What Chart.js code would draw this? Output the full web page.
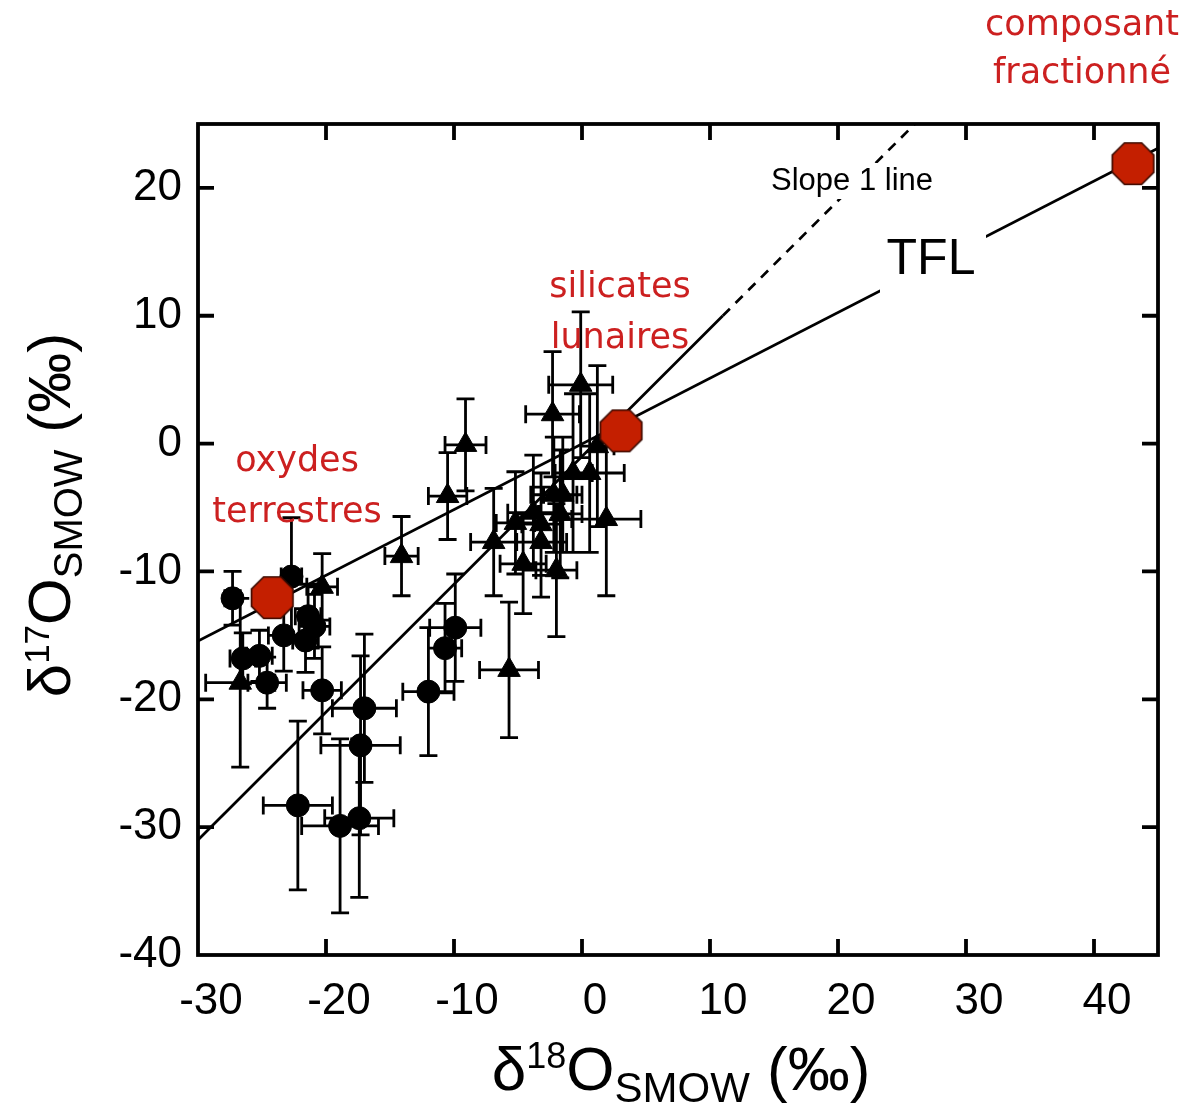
<!DOCTYPE html>
<html>
<head>
<meta charset="utf-8">
<script src="https://cdn.jsdelivr.net/npm/chart.js@4.4.1/dist/chart.umd.min.js"></script>
<style>
  html, body { margin: 0; padding: 0; background: #fff; }
  canvas { display: block; }
</style>
</head>
<body>
<canvas id="c" width="1183" height="1112"></canvas>
<script>
// Metal grains, circles: δ18O, δ17O and 1σ errors (‰)
const circD18 = [-27.3, -22.7, -21.4, -20.9, -23.3, -21.6, -26.5, -25.2, -24.6, -20.3, -17.0, -17.3, -22.2, -18.9, -17.4, -12.0, -10.7, -9.9];
const circD17 = [-12.1, -10.4, -13.5, -14.3, -15.0, -15.4, -16.8, -16.6, -18.7, -19.3, -20.7, -23.6, -28.3, -29.9, -29.3, -19.4, -16.0, -14.4];
const circErr18 = [0.6, 0.8, 1.0, 1.2, 1.2, 1.0, 1.0, 1.0, 1.5, 1.5, 2.5, 3.1, 2.7, 3.0, 2.7, 2.0, 1.3, 2.0];
const circErr17 = [2.1, 4.6, 2.5, 2.5, 2.8, 2.5, 2.0, 2.0, 2.0, 3.4, 5.8, 7.0, 6.6, 6.8, 6.2, 5.0, 3.5, 4.2];

// Metal grains, triangles
const triD18 = [-26.7, -20.3, -14.1, -10.5, -9.1, -6.9, -5.7, -5.2, -4.6, -3.8, -3.2, -3.2, -2.3, -2.2, -2.0, -1.7, -1.5, -0.7, -0.1, 0.6, 1.2, 1.9];
const triD17 = [-18.7, -11.2, -8.8, -4.1, -0.1, -7.7, -17.7, -6.2, -9.4, -5.4, -6.3, -7.7, 2.3, -4.0, -9.9, -5.5, -4.0, -2.3, 4.6, -2.3, -0.2, -5.9];
const triErr18 = [2.7, 1.2, 1.3, 1.5, 1.6, 1.8, 2.3, 1.5, 1.8, 2.0, 1.5, 2.0, 2.1, 1.8, 1.6, 1.7, 1.5, 1.5, 2.5, 2.7, 1.3, 2.7];
const triErr17 = [6.6, 2.6, 3.1, 3.4, 3.6, 4.2, 5.3, 4.0, 3.9, 4.5, 4.0, 4.3, 4.9, 4.5, 5.2, 5.0, 4.5, 6.2, 5.7, 6.2, 6.3, 6.0];

// End members: terrestrial oxides, lunar silicates, fractionated component
const endD18 = [-24.2, 3.05, 43.05];
const endD17 = [-12.05, 1.0, 21.9];

// Terrestrial fractionation line
const tflD18 = [-30, 45];
const tflD17 = [-15.45, 23.1];

// Slope 1 line (solid, then dashed)
const slopeSolidD18 = [-30, 11];
const slopeSolidD17 = [-31, 10];
const slopeDashD18 = [11, 27];
const slopeDashD17 = [10, 26];

// Axis ranges and ticks
const xMin = -30, xMax = 45, xStep = 10;
const yMin = -40, yMax = 25, yStep = 10;

const pts = (xs, ys) => xs.map((v, i) => ({ x: v, y: ys[i] }));

function octagon(r, fill, stroke) {
  const c = document.createElement('canvas');
  const s = Math.ceil(2 * r + 4);
  c.width = c.height = s;
  const g = c.getContext('2d');
  g.beginPath();
  for (let i = 0; i < 8; i++) {
    const a = Math.PI / 8 + i * Math.PI / 4;
    g.lineTo(s / 2 + r * Math.cos(a), s / 2 + r * Math.sin(a));
  }
  g.closePath();
  g.fillStyle = fill;
  g.fill();
  g.lineWidth = 1.6;
  g.strokeStyle = stroke;
  g.stroke();
  return c;
}

const RED = '#cc2020';
const octImg = octagon(22.5, '#c41f00', '#3a0a00');

const errorSets = [
  { xs: circD18, ys: circD17, ex: circErr18, ey: circErr17 },
  { xs: triD18, ys: triD17, ex: triErr18, ey: triErr17 }
];

function drawRich(ctx, parts, cx, cy, angle) {
  let total = 0;
  parts.forEach(p => { ctx.font = p.size + 'px "Liberation Sans", Arial, sans-serif'; p.w = ctx.measureText(p.t).width; total += p.w; });
  ctx.save();
  ctx.translate(cx, cy);
  ctx.rotate(angle);
  ctx.fillStyle = '#000';
  ctx.textBaseline = 'alphabetic';
  ctx.textAlign = 'left';
  let x = -total / 2;
  parts.forEach(p => {
    ctx.font = p.size + 'px "Liberation Sans", Arial, sans-serif';
    ctx.fillText(p.t, x, p.dy || 0);
    x += p.w;
  });
  ctx.restore();
}

function label(ctx, text, x, y, font, color, box) {
  ctx.save();
  ctx.font = font;
  ctx.textAlign = 'center';
  ctx.textBaseline = 'middle';
  if (box) {
    ctx.fillStyle = '#fff';
    ctx.fillRect(box[0], box[1], box[2] - box[0], box[3] - box[1]);
  }
  ctx.fillStyle = color;
  ctx.fillText(text, x, y);
  ctx.restore();
}

const decor = {
  id: 'decor',
  beforeDatasetDraw(chart, args) {
    if (args.index !== 2) return;
    const { ctx, scales: { x, y } } = chart;
    const cap = 9;
    ctx.save();
    ctx.strokeStyle = '#000';
    ctx.lineWidth = 2.8;
    ctx.beginPath();
    errorSets.forEach(s => {
      s.xs.forEach((v, i) => {
        const px = x.getPixelForValue(v), py = y.getPixelForValue(s.ys[i]);
        const x0 = x.getPixelForValue(v - s.ex[i]), x1 = x.getPixelForValue(v + s.ex[i]);
        const y0 = y.getPixelForValue(s.ys[i] - s.ey[i]), y1 = y.getPixelForValue(s.ys[i] + s.ey[i]);
        ctx.moveTo(x0, py); ctx.lineTo(x1, py);
        ctx.moveTo(x0, py - cap); ctx.lineTo(x0, py + cap);
        ctx.moveTo(x1, py - cap); ctx.lineTo(x1, py + cap);
        ctx.moveTo(px, y0); ctx.lineTo(px, y1);
        ctx.moveTo(px - cap, y0); ctx.lineTo(px + cap, y0);
        ctx.moveTo(px - cap, y1); ctx.lineTo(px + cap, y1);
      });
    });
    ctx.stroke();
    ctx.restore();
  },
  afterDatasetsDraw(chart) {
    const { ctx, chartArea: a, scales: { x, y } } = chart;
    // annotation labels
    label(ctx, 'Slope 1 line', 852, 181, '31px "Liberation Sans", Arial, sans-serif', '#000', [768, 163, 937, 199]);
    label(ctx, 'TFL', 931, 260, '50px "Liberation Sans", Arial, sans-serif', '#000', [880, 228, 986, 294]);
    const rf = '35px "DejaVu Sans", sans-serif';
    label(ctx, 'silicates', 620, 288, rf, RED);
    label(ctx, 'lunaires', 620, 339, rf, RED);
    label(ctx, 'oxydes', 297, 462, rf, RED);
    label(ctx, 'terrestres', 297, 513, rf, RED);
    label(ctx, 'composant', 1082, 26, rf, RED);
    label(ctx, 'fractionné', 1082, 74, rf, RED);

    // frame and inward ticks
    ctx.save();
    ctx.strokeStyle = '#000';
    ctx.lineWidth = 3.8;
    ctx.strokeRect(a.left, a.top, a.right - a.left, a.bottom - a.top);
    ctx.beginPath();
    const tl = 16;
    x.ticks.forEach(t => {
      const px = x.getPixelForValue(t.value);
      if (px <= a.left + 2 || px >= a.right - 2) return;
      ctx.moveTo(px, a.bottom); ctx.lineTo(px, a.bottom - tl);
      ctx.moveTo(px, a.top); ctx.lineTo(px, a.top + tl);
    });
    y.ticks.forEach(t => {
      const py = y.getPixelForValue(t.value);
      if (py <= a.top + 2 || py >= a.bottom - 2) return;
      ctx.moveTo(a.left, py); ctx.lineTo(a.left + tl, py);
      ctx.moveTo(a.right, py); ctx.lineTo(a.right - tl, py);
    });
    ctx.stroke();
    ctx.restore();

    // axis titles
    drawRich(ctx, [
      { t: 'δ', size: 62 },
      { t: '18', size: 36, dy: -22 },
      { t: 'O', size: 62 },
      { t: 'SMOW', size: 42, dy: 12 },
      { t: ' (‰)', size: 62 }
    ], 681, 1090, 0);
    drawRich(ctx, [
      { t: 'δ', size: 60 },
      { t: '17', size: 35, dy: -21 },
      { t: 'O', size: 60 },
      { t: 'SMOW', size: 40, dy: 12 },
      { t: ' (‰)', size: 60 }
    ], 70, 515, -Math.PI / 2);
  }
};

const tickFont = { family: '"Liberation Sans", Arial, sans-serif', size: 44 };

new Chart(document.getElementById('c'), {
  type: 'scatter',
  data: {
    datasets: [
      { data: pts(endD18, endD17), pointStyle: octImg, pointRadius: 22 },
      { data: pts(triD18, triD17), pointStyle: 'triangle', pointRadius: 13, backgroundColor: '#000', borderColor: '#000', borderWidth: 1 },
      { data: pts(circD18, circD17), pointStyle: 'circle', pointRadius: 11.5, backgroundColor: '#000', borderColor: '#000', borderWidth: 1 },
      { data: pts(tflD18, tflD17), showLine: true, pointRadius: 0, borderColor: '#000', borderWidth: 2.7 },
      { data: pts(slopeSolidD18, slopeSolidD17), showLine: true, pointRadius: 0, borderColor: '#000', borderWidth: 2.7 },
      { data: pts(slopeDashD18, slopeDashD17), showLine: true, pointRadius: 0, borderColor: '#000', borderWidth: 2.7, borderDash: [10, 8] }
    ]
  },
  options: {
    responsive: false,
    animation: false,
    devicePixelRatio: 1,
    layout: { padding: { top: 124, right: 25, left: 0, bottom: 0 } },
    plugins: { legend: { display: false }, tooltip: { enabled: false } },
    scales: {
      x: {
        type: 'linear', min: xMin, max: xMax,
        grid: { display: false }, border: { display: false },
        ticks: { stepSize: xStep, includeBounds: false, autoSkip: false, maxRotation: 0, padding: 12, labelOffset: 13, color: '#000', font: tickFont },
        afterFit: s => { s.height = 157; }
      },
      y: {
        type: 'linear', min: yMin, max: yMax,
        grid: { display: false }, border: { display: false },
        ticks: { stepSize: yStep, includeBounds: false, autoSkip: false, padding: 8, color: '#000', font: tickFont },
        afterFit: s => { s.width = 198; }
      }
    }
  },
  plugins: [decor]
});
</script>
</body>
</html>
